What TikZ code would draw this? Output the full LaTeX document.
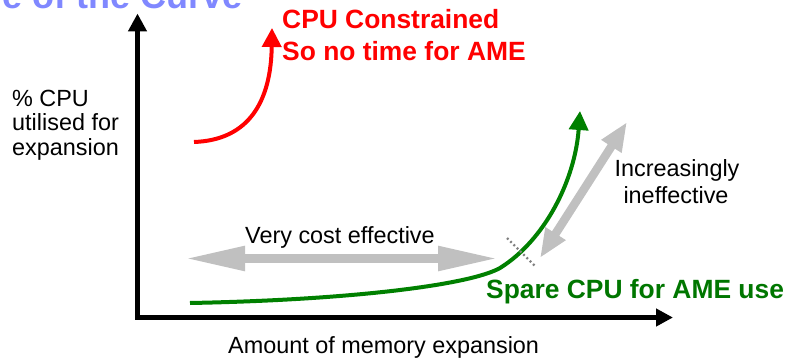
\documentclass[tikz,border=0pt]{standalone}
\usepackage{fontspec}
\setmainfont{Liberation Sans}
\usetikzlibrary{arrows.meta}
\definecolor{titleblue}{RGB}{128,136,255}
\definecolor{cpured}{RGB}{255,0,0}
\definecolor{amegreen}{RGB}{0,128,0}
\definecolor{amegreentext}{RGB}{0,118,0}
\definecolor{arrowgray}{RGB}{192,192,192}
\definecolor{dotgray}{RGB}{128,128,128}
\begin{document}
\begin{tikzpicture}[x=1pt,y=-1pt,
  axisline/.style={line width=5pt, line join=miter,
    {Triangle[length=18pt,width=18pt]}-{Triangle[length=17pt,width=17pt]}},
  reg/.style={inner sep=0pt, font=\fontsize{23.4}{24}\selectfont},
  boldtxt/.style={inner sep=0pt, font=\fontsize{26.4}{28}\selectfont\bfseries},
  curvearrow/.style={line width=4pt, -{Triangle[length=19pt,width=19pt]}},
  grayarrow/.style={arrowgray, line width=8.5pt},
  longheads/.style={{Triangle[length=60pt,width=23pt]}-{Triangle[length=60pt,width=23pt]}},
  shortheads/.style={{Triangle[length=29pt,width=22pt]}-{Triangle[length=29pt,width=22pt]}},
]
\useasboundingbox (0,0) rectangle (790,361);

% title (cut off at top)
\node[anchor=base east, inner sep=0pt, text=titleblue,
      font=\fontsize{36}{38}\selectfont\bfseries] (title) at (243,9) {e of the Curve};

% axes
\coordinate (ytip) at (137.5,13.5);
\coordinate (origin) at (137.5,317.5);
\coordinate (xtip) at (673,317.5);
\draw[axisline] (ytip) -- (origin) -- (xtip);

% gray double arrows
\coordinate (hL) at (185,258.5);
\coordinate (hR) at (498,258.5);
\draw[grayarrow, longheads] (hL) -- (hR);
\coordinate (dL) at (540,258);
\coordinate (dR) at (627,122);
\draw[grayarrow, shortheads] (dL) -- (dR);

% red curve
\coordinate (r0) at (194,142);
\coordinate (r1) at (272,28);
\draw[curvearrow, cpured] (r0) .. controls (250,140) and (271,100) .. (r1);

% green curve
\coordinate (g0) at (190,303);
\coordinate (gm) at (500,268);
\coordinate (g1) at (580,111);
\draw[curvearrow, amegreen] (g0) .. controls (350,300) and (470,285) .. (gm)
   .. controls (545,240) and (575,180) .. (g1);

% dotted marker
\coordinate (d1) at (507,238);
\coordinate (d2) at (536,267);
\draw[dotgray, line width=2.3pt, dash pattern=on 2pt off 2.6pt] (d1) -- (d2);

% texts
\node[boldtxt, text=cpured, anchor=base west] (red1) at (282,28.3) {CPU Constrained};
\node[boldtxt, text=cpured, anchor=base west] (red2) at (282,60) {So no time for AME};

\node[reg, anchor=base west] (yl1) at (12,106.7) {\% CPU};
\node[reg, anchor=base west] (yl2) at (12,130.8) {utilised for};
\node[reg, anchor=base west] (yl3) at (12,155) {expansion};

\node[reg, anchor=base west] (vce) at (245,243.3) {Very cost effective};
\node[reg, anchor=base] (inc1) at (677,176.7) {Increasingly};
\node[reg, anchor=base] (inc2) at (676,203.3) {ineffective};

\node[boldtxt, text=amegreentext, anchor=base west] (spare) at (486,298.3) {Spare CPU for AME use};
\node[reg, anchor=base west] (xl) at (228,353) {Amount of memory expansion};
\end{tikzpicture}
\end{document}
